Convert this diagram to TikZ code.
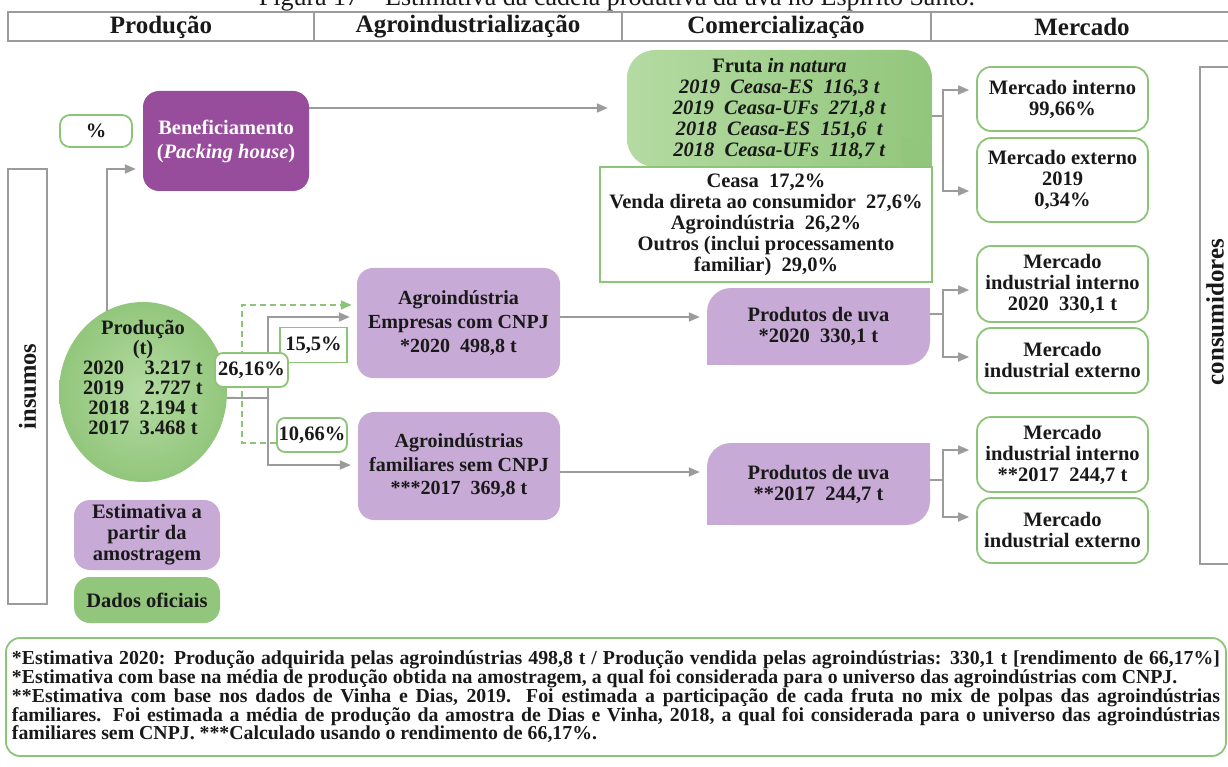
\documentclass[tikz,border=0pt]{standalone}
\usepackage{fontspec}
\setmainfont{Liberation Serif}
\usetikzlibrary{arrows.meta}
\usetikzlibrary{shapes.geometric}

\definecolor{roxo}{RGB}{152,77,156}
\definecolor{lilas}{RGB}{200,170,214}
\definecolor{verde}{RGB}{146,198,124}
\definecolor{verdeclaro}{RGB}{180,219,162}
\definecolor{verdeb}{RGB}{140,196,120}
\definecolor{cinza}{RGB}{155,155,155}
\definecolor{tinta}{RGB}{25,25,25}

\newcommand{\corpo}{\fontsize{20.5}{21}\selectfont\bfseries}
\newcommand{\cabec}{\fontsize{25}{25}\selectfont\bfseries}
\newcommand{\notafonte}{\fontsize{19.8}{18.8}\selectfont\bfseries
  \hyphenpenalty=10000 \emergencystretch=20pt }

\begin{document}
\begin{tikzpicture}[x=1pt,y=-1pt,
    caixa/.style={
% The shape:
rectangle, rounded corners=14pt,
% The size:
minimum width=171pt, inner sep=0pt,
% The border:
draw=verdeb, line width=1.8pt, fill=white,
% The text:
align=center, font=\corpo, text=tinta,
},
    bloco/.style={
% The shape:
rectangle, rounded corners=16pt,
% The size:
inner sep=0pt,
% The fill:
fill=#1,
% The text:
align=center, font=\corpo, text=tinta,
},
    rotulo/.style={
% The shape:
rectangle, rounded corners=8pt,
% The size:
inner sep=0pt,
% The border:
draw=verdeb, line width=1.8pt, fill=white,
font=\corpo, text=tinta,
},
    seta/.style={draw=cinza, line width=1.8pt, -{Triangle[length=11pt,width=9pt]}, shorten >=7pt},
    linha/.style={draw=cinza, line width=1.8pt},
    tracejado/.style={draw=verdeb, line width=1.8pt, dash pattern=on 6pt off 4pt,
                      -{Triangle[length=11pt,width=9pt]}, shorten >=5pt},
]
  \useasboundingbox (0,0) rectangle (1228,767);

  % titulo e cabecalho
  \node[anchor=base, font=\fontsize{26}{26}\selectfont, text=tinta] (titulo) at (617,6)
       {Figura 17 – Estimativa da cadeia produtiva da uva no Espírito Santo.};
  \draw[linha] (1240,12) -- (8,12) -- (8,41) -- (1240,41);
  \draw[linha] (314,12) -- (314,41) (622,12) -- (622,41) (931,12) -- (931,41);
  \node[font=\cabec, text=tinta] (cprod) at (161,27) {Produção};
  \node[font=\cabec, text=tinta] (cagro) at (468,27) {Agroindustrialização};
  \node[font=\cabec, text=tinta] (ccom)  at (776,27) {Comercialização};
  \node[font=\cabec, text=tinta] (cmer)  at (1082,27) {Mercado};

  % insumos / consumidores
  \node[draw=cinza, line width=1.8pt, rotate=90, minimum width=435pt, minimum height=39pt,
        inner sep=0pt, font=\fontsize{24.5}{24.5}\selectfont\bfseries, text=tinta]
        (insumos) at (27.5,386.5) {insumos};
  \draw[linha] (1240,67) -- (1200,67) -- (1200,564) -- (1240,564);
  \node[rotate=90, font=\fontsize{25}{25}\selectfont\bfseries, text=tinta]
        (consumidores) at (1215,312) {consumidores};

  % producao
  \node[rotulo, minimum width=72pt, minimum height=32pt, rounded corners=10pt] (pct) at (96,131) {\%};
  \node[bloco=roxo, minimum width=166pt, minimum height=100pt, text=white,
        font=\fontsize{20.5}{24}\selectfont\bfseries] (beneficio) at (226,141)
        {Beneficiamento\\(\textit{Packing house})};
  \node[ellipse, minimum width=168pt, minimum height=180pt, inner sep=0pt,
        shading=radial, inner color=verdeclaro, outer color=verde] (producao) at (143,392) {};
  \node[align=center, font=\fontsize{20.5}{20}\selectfont\bfseries, text=tinta] (producaotxt) at (143,378)
        {Produção\\(t)\\2020\quad3.217 t\\2019\quad2.727 t\\2018\enspace2.194 t\\2017\enspace3.468 t};
  \node[bloco=lilas, minimum width=146pt, minimum height=70pt] (legest) at (147,535)
        {Estimativa a\\partir da\\amostragem};
  \node[bloco=verde, minimum width=146pt, minimum height=46pt] (legofic) at (147,600) {Dados oficiais};

  % agroindustrializacao
  \node[bloco=lilas, minimum width=203pt, minimum height=110pt, font=\fontsize{20}{24}\selectfont\bfseries]
        (agroemp) at (458.5,323) {Agroindústria\\Empresas com CNPJ\\{}*2020\enspace498,8 t};
  \node[bloco=lilas, minimum width=202pt, minimum height=108pt, font=\fontsize{20}{23.5}\selectfont\bfseries]
        (agrofam) at (459,466) {Agroindústrias\\familiares sem CNPJ\\{}***2017\enspace369,8 t};
  \node[rectangle, draw=verdeb, line width=1.8pt, fill=white, inner sep=0pt,
        minimum width=67pt, minimum height=35pt, font=\corpo, text=tinta] (p155) at (313.5,345) {15,5\%};
  \node[rotulo, minimum width=70pt, minimum height=34pt] (p1066) at (312,435) {10,66\%};

  % comercializacao
  \node[rectangle, rounded corners=28pt, minimum width=305pt, minimum height=117pt,
        left color=verdeclaro, right color=verde, align=center, font=\corpo, text=tinta]
        (fruta) at (779.5,108.5)
        {Fruta \textit{in natura}\\\textit{2019\enspace Ceasa-ES\enspace 116,3 t}\\
         \textit{2019\enspace Ceasa-UFs\enspace 271,8 t}\\\textit{2018\enspace Ceasa-ES\enspace 151,6\enspace t}\\
         \textit{2018\enspace Ceasa-UFs\enspace 118,7 t}};
  \fill[verde] (fruta.south east) rectangle ++(-30,-30);
  \node[rectangle, draw=verdeb, line width=1.8pt, fill=white, inner sep=0pt,
        minimum width=332pt, minimum height=115pt, align=center, font=\corpo, text=tinta]
        (canais) at (766,224.5)
        {Ceasa\enspace 17,2\%\\Venda direta ao consumidor\enspace 27,6\%\\Agroindústria\enspace 26,2\%\\
         Outros (inclui processamento\\familiar)\enspace 29,0\%};
  \node[bloco=lilas, rounded corners=24pt, minimum width=223pt, minimum height=77pt]
        (produtos1) at (818.5,326.5) {Produtos de uva\\{}*2020\enspace330,1 t};
  \fill[lilas] (produtos1.north east) rectangle ++(-30,30);
  \fill[lilas] (produtos1.south west) rectangle ++(30,-30);
  \node[bloco=lilas, rounded corners=24pt, minimum width=223pt, minimum height=82pt]
        (produtos2) at (818.5,484) {Produtos de uva\\{}**2017\enspace244,7 t};
  \fill[lilas] (produtos2.north east) rectangle ++(-30,30);
  \fill[lilas] (produtos2.south west) rectangle ++(30,-30);

  % mercado
  \node[caixa, minimum height=64pt] (merint) at (1062.5,99) {Mercado interno\\99,66\%};
  \node[caixa, minimum height=84pt] (merext) at (1062.5,180) {Mercado externo\\2019\\0,34\%};
  \node[caixa, minimum height=76pt] (mii1) at (1062.5,284) {Mercado\\industrial interno\\2020\enspace330,1 t};
  \node[caixa, minimum height=65pt] (mie1) at (1062.5,360.5) {Mercado\\industrial externo};
  \node[caixa, minimum height=75pt] (mii2) at (1062.5,454.5) {Mercado\\industrial interno\\{}**2017\enspace244,7 t};
  \node[caixa, minimum height=65pt] (mie2) at (1062.5,530.5) {Mercado\\industrial externo};

  % ligacoes
  \draw[seta] (producao.114) |- ([yshift=-28pt]beneficio.west);
  \draw[seta, shorten >=19pt] ([yshift=33pt]beneficio.east) -- ([yshift=33pt]beneficio.east -| fruta.west);
  \coordinate (ramo) at (268,398);
  \draw[linha] (producao.-4) -- (ramo);
  \draw[seta] (ramo) |- ([yshift=6pt]agroemp.west);
  \draw[seta] (ramo) |- ([yshift=1pt]agrofam.west);
  \coordinate (ramoverde) at (242,443);
  \draw[tracejado] ([yshift=-8pt]p1066.west) -- (ramoverde) |- ([yshift=18pt]agroemp.west);
  \draw[seta] ([yshift=6pt]agroemp.east) -- ([yshift=6pt]agroemp.east -| produtos1.west);
  \draw[seta] ([yshift=-6pt]agrofam.east) -- ([yshift=-6pt]agrofam.east -| produtos2.west);
  \coordinate (garfo1) at (943,116);
  \draw[linha] (fruta.east |- garfo1) -- (garfo1);
  \draw[seta] (garfo1) |- ([yshift=9pt]merint.west);
  \draw[seta] (garfo1) |- ([yshift=-11pt]merext.west);
  \coordinate (garfo2) at (943,314);
  \draw[linha] (produtos1.east |- garfo2) -- (garfo2);
  \draw[seta] (garfo2) |- ([yshift=-6pt]mii1.west);
  \draw[seta] (garfo2) |- ([yshift=3.5pt]mie1.west);
  \coordinate (garfo3) at (943,480);
  \draw[linha] (produtos2.east |- garfo3) -- (garfo3);
  \draw[seta] (garfo3) |- ([yshift=4.5pt]mii2.west);
  \draw[seta] (garfo3) |- ([yshift=13.5pt]mie2.west);
  \node[rotulo, minimum width=73pt, minimum height=34pt] (p2616) at (251.5,370) {26,16\%};

  % notas
  \node[rectangle, rounded corners=14pt, draw=verdeb, line width=1.8pt, text width=1208pt,
        inner xsep=6pt, inner ysep=0pt, minimum height=118pt, align=justify, text=tinta,
        font=\notafonte]
        (notas) at (616,697)
        {*Estimativa 2020: Produção adquirida pelas agroindústrias 498,8 t / Produção vendida pelas agroindústrias: 330,1 t [rendimento de 66,17\%]\linebreak
         *Estimativa com base na média de produção obtida na amostragem, a qual foi considerada para o universo das agroindústrias com CNPJ.\\{}%
         **Estimativa com base nos dados de Vinha e Dias, 2019. Foi estimada a participação de cada fruta no mix de polpas das agroindústrias\linebreak
         familiares. Foi estimada a média de produção da amostra de Dias e Vinha, 2018, a qual foi considerada para o universo das agroindústrias\linebreak
         familiares sem CNPJ. ***Calculado usando o rendimento de 66,17\%.};
\end{tikzpicture}
\end{document}
